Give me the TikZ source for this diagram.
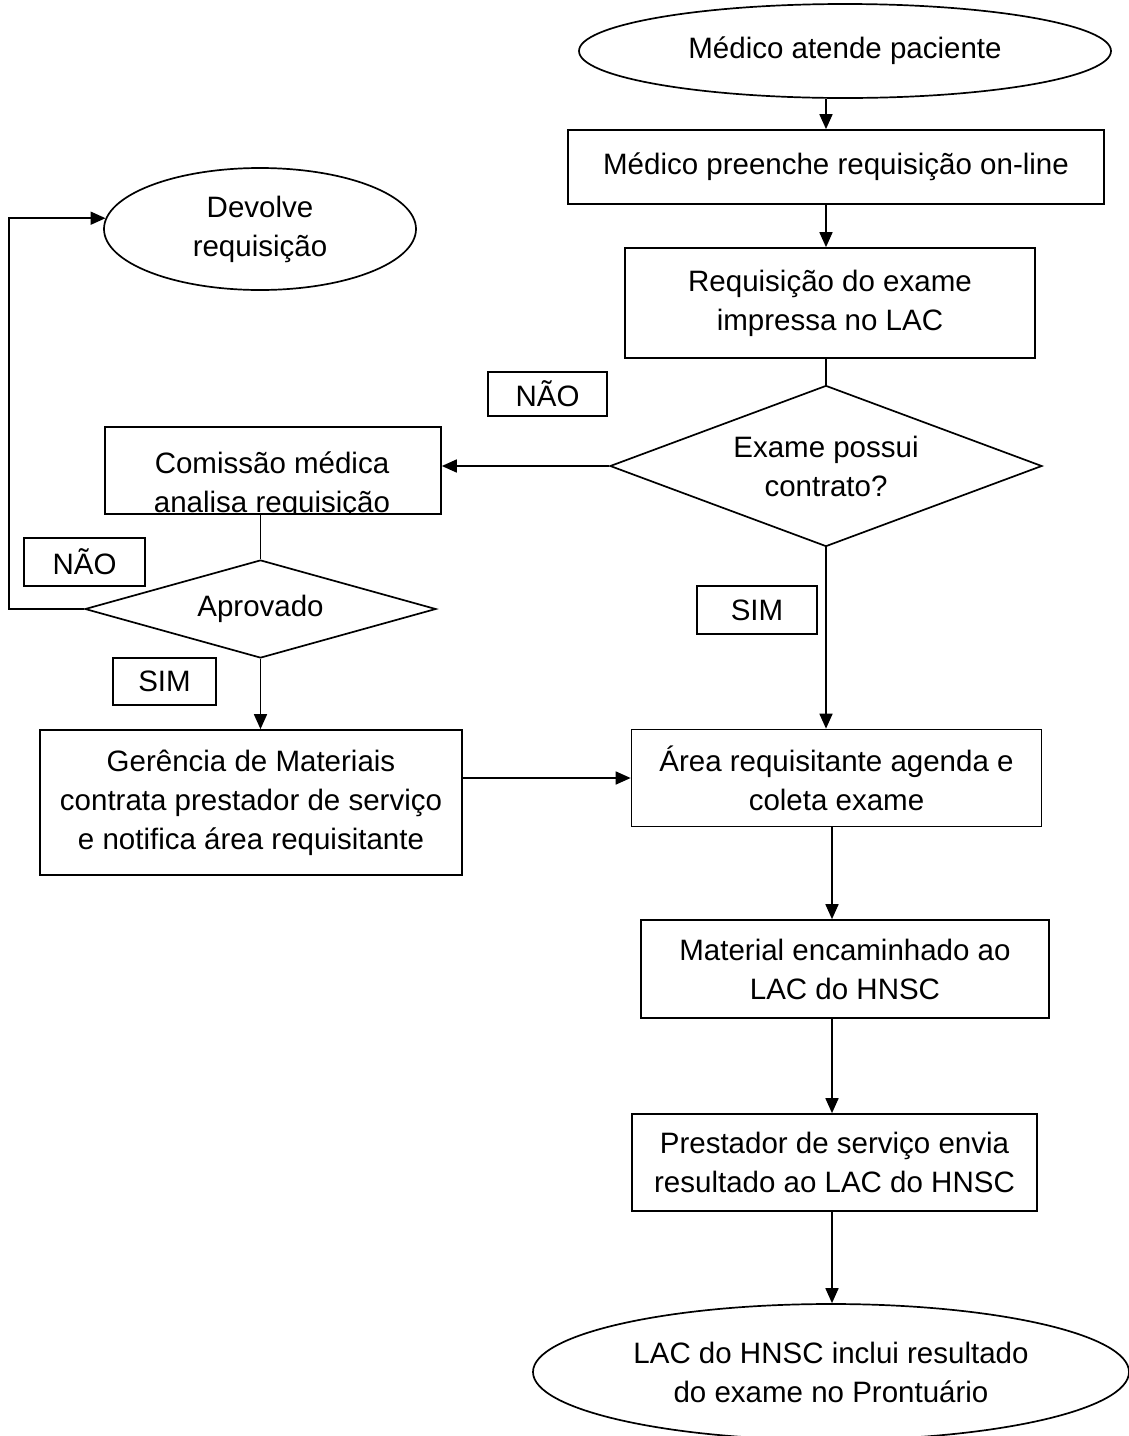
\documentclass[tikz,border=0pt]{standalone}
\usepackage{fontspec}
\setmainfont{Liberation Sans}
\usetikzlibrary{shapes.geometric,arrows.meta}
\begin{document}
\begin{tikzpicture}[x=1pt,y=-1pt,
  every node/.style={font=\fontsize{29.5}{39}\selectfont, align=center, inner sep=0pt},
  proc/.style={draw, line width=1.7pt, rectangle, fill=white},
  term/.style={draw, line width=1.7pt, ellipse, fill=white},
  dec/.style={draw, line width=1.7pt, diamond, fill=white},
  tag/.style={draw, line width=1.7pt, rectangle, fill=white},
  flow/.style={line width=1.7pt, -{Triangle[length=15pt,width=13pt]}},
  link/.style={line width=1.7pt}]
\fill[white] (0,0) rectangle (1129,1436);
\clip (0,0) rectangle (1129,1436);

\coordinate (lowx) at (832,0);

\node[term, minimum width=532, minimum height=94] (e1) at (845,51) {Médico atende paciente};
\node[proc, minimum width=536, minimum height=74] (b2) at (836,167) {\raisebox{4pt}{Médico preenche requisição on-line}};
\node[proc, minimum width=410, minimum height=110] (b3) at (830,303) {Requisição do exame\\impressa no LAC};
\node[dec, aspect=2.68, minimum width=432, minimum height=161] (d1) at (826,466) {Exame possui\\contrato?};
\node[tag, minimum width=119, minimum height=44] (nao1) at (547.5,394) {NÃO};
\node[proc, minimum width=336, minimum height=87] (com) at (273,470.5) {};
\begin{scope}
  \clip ([shift={(1,1)}]com.north west) rectangle ([shift={(-1,-2)}]com.south east);
  \node (comt) at (272,485) {Comissão médica\\analisa requisição};
\end{scope}
\node[dec, aspect=3.58, minimum width=351, minimum height=98] (apr) at (260.5,609) {Aprovado};
\node[tag, minimum width=121, minimum height=48] (nao2) at (84.5,562) {NÃO};
\node[term, minimum width=312, minimum height=122] (dev) at (260,229) {Devolve\\requisição};
\node[tag, minimum width=103, minimum height=47] (sim1) at (164.5,681.5) {SIM};
\node[proc, minimum width=422, minimum height=145] (ger) at (251,802.5) {Gerência de Materiais\\contrata prestador de serviço\\e notifica área requisitante};
\node[tag, minimum width=120, minimum height=48] (sim2) at (757,610) {SIM};
\node[proc, minimum width=410, minimum height=97] (area) at (836.5,778) {Área requisitante agenda e\\coleta exame};
\node[proc, minimum width=408, minimum height=98] (mat) at (845,969) {Material encaminhado ao\\LAC do HNSC};
\node[proc, minimum width=405, minimum height=97] (pre) at (834.5,1162.5) {Prestador de serviço envia\\resultado ao LAC do HNSC};
\node[term, minimum width=596, minimum height=136] (fin) at (831,1372) {LAC do HNSC inclui resultado\\do exame no Prontuário};

\draw[flow] (e1.south -| d1.north) -- (b2.north -| d1.north);
\draw[flow] (b2.south -| d1.north) -- (b3.north -| d1.north);
\draw[link] (b3.south -| d1.north) -- (d1.north);
\draw[flow] (d1.west) -- (d1.west -| com.east);
\draw[flow] (d1.south) -- (d1.south |- area.north);
\draw[link] (apr.north |- com.south) -- (apr.north);
\draw[flow] (apr.west) -- ++(-75,0) |- (dev.176);
\draw[flow] (apr.south) -- (apr.south |- ger.north);
\draw[flow] (ger.east |- area.west) -- (area.west);
\draw[flow] (area.south -| lowx) -- (mat.north -| lowx);
\draw[flow] (mat.south -| lowx) -- (pre.north -| lowx);
\draw[flow] (pre.south -| lowx) -- (fin.north -| lowx);
\end{tikzpicture}
\end{document}
